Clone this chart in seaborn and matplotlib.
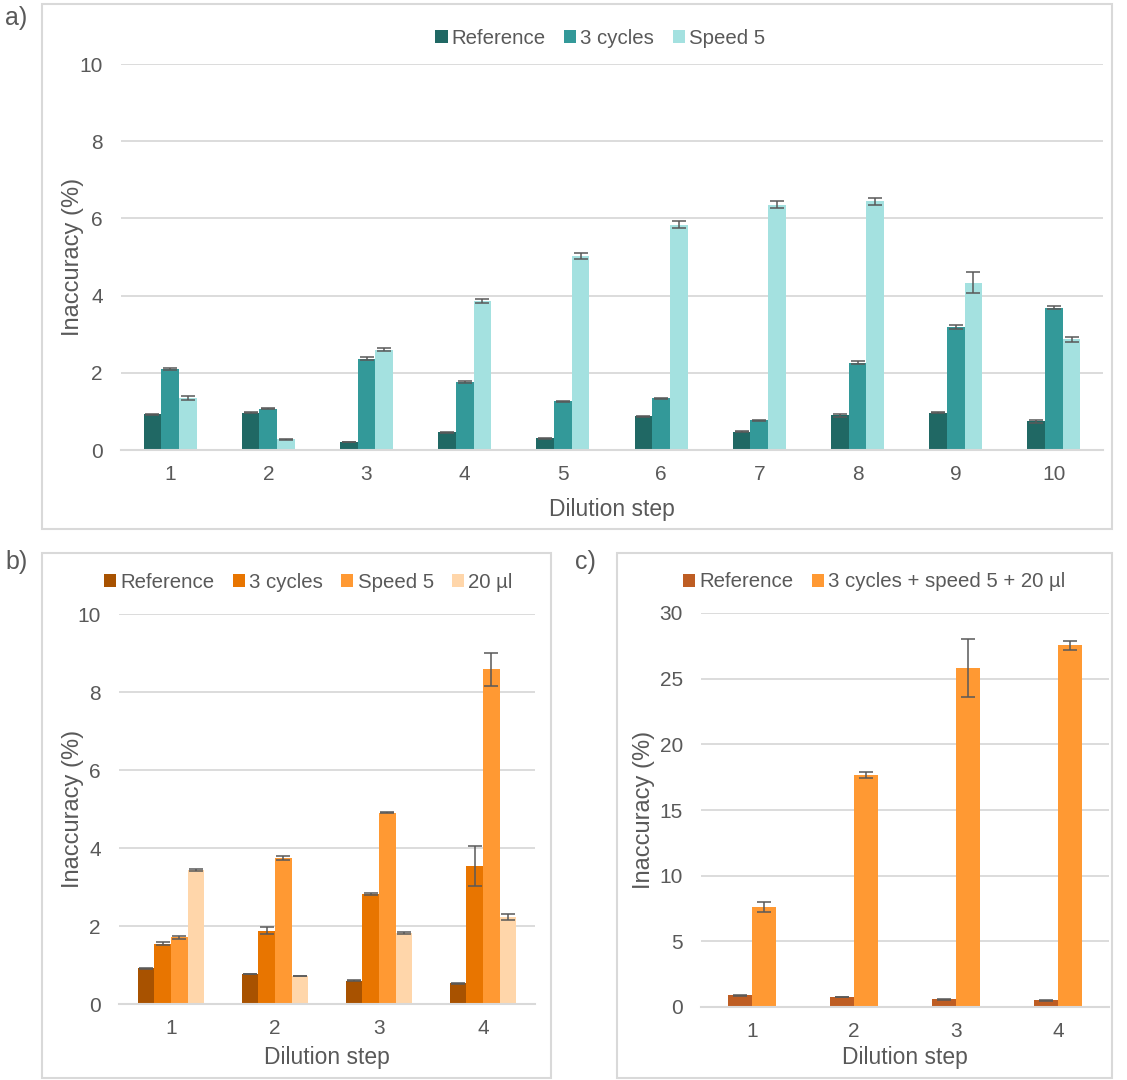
import pandas as pd
import seaborn as sns
import numpy as np
import matplotlib.pyplot as plt
from matplotlib.patches import Rectangle

# panel a: 10 dilution steps, teal series
steps_a = [str(i) for i in range(1, 11)]
series_a = ['Reference', '3 cycles', 'Speed 5']
ref_a = [0.92, 0.97, 0.21, 0.46, 0.30, 0.87, 0.47, 0.90, 0.97, 0.75]
cyc_a = [2.09, 1.07, 2.37, 1.76, 1.26, 1.34, 0.77, 2.26, 3.19, 3.69]
spd_a = [1.34, 0.28, 2.60, 3.86, 5.03, 5.84, 6.36, 6.44, 4.33, 2.87]
ref_a_err = [0.02, 0.02, 0.01, 0.01, 0.01, 0.02, 0.01, 0.04, 0.02, 0.04]
cyc_a_err = [0.03, 0.02, 0.05, 0.02, 0.02, 0.02, 0.02, 0.04, 0.06, 0.03]
spd_a_err = [0.05, 0.01, 0.03, 0.04, 0.08, 0.08, 0.10, 0.08, 0.27, 0.07]
colors_a = ['#206864', '#339999', '#A4E1E0']

# panel b: 4 dilution steps, orange series
steps_b = ['1', '2', '3', '4']
series_b = ['Reference', '3 cycles', 'Speed 5', '20 µl']
ref_b = [0.92, 0.77, 0.60, 0.53]
cyc_b = [1.55, 1.88, 2.82, 3.54]
spd_b = [1.71, 3.74, 4.91, 8.58]
vol_b = [3.44, 0.72, 1.82, 2.23]
ref_b_err = [0.01, 0.01, 0.01, 0.01]
cyc_b_err = [0.03, 0.085, 0.03, 0.52]
spd_b_err = [0.04, 0.06, 0.02, 0.43]
vol_b_err = [0.02, 0.01, 0.02, 0.07]
colors_b = ['#A85200', '#E87500', '#FF9933', '#FFD6AA']

# panel c: combined settings
steps_c = ['1', '2', '3', '4']
series_c = ['Reference', '3 cycles + speed 5 + 20 µl']
ref_c = [0.89, 0.76, 0.58, 0.51]
comb_c = [7.63, 17.67, 25.81, 27.56]
ref_c_err = [0.03, 0.03, 0.02, 0.02]
comb_c_err = [0.36, 0.23, 2.2, 0.34]
colors_c = ['#BE5D23', '#FF9933']

TXT = '#595959'
GRID = '#D9D9D9'

sns.set_style('white')
plt.rcParams['font.family'] = ['Liberation Sans', 'DejaVu Sans']
plt.rcParams['text.color'] = TXT
plt.rcParams['axes.labelcolor'] = TXT
plt.rcParams['xtick.color'] = TXT
plt.rcParams['ytick.color'] = TXT


def long_df(steps, names, values):
    rows = []
    for name, vals in zip(names, values):
        for s, v in zip(steps, vals):
            rows.append({'step': s, 'series': name, 'value': v})
    return pd.DataFrame(rows)


def draw_panel(ax, steps, names, values, errs, colors, width, ymax, ystep,
               leg_x, leg_y, ylab_x, xlab_y):
    df = long_df(steps, names, values)
    sns.barplot(data=df, x='step', y='value', hue='series', order=steps,
                hue_order=names, palette=colors, width=width, errorbar=None,
                saturation=1, linewidth=0, ax=ax)
    for cont, err in zip(ax.containers, errs):
        xs = [p.get_x() + p.get_width() / 2 for p in cont.patches]
        hs = [p.get_height() for p in cont.patches]
        ax.errorbar(xs, hs, yerr=err, fmt='none', ecolor=TXT,
                    elinewidth=1.1, capsize=5, capthick=1.1, zorder=4)
    ax.set_xlim(-0.5, len(steps) - 0.5)
    ax.set_ylim(0, ymax)
    ax.set_yticks(np.arange(0, ymax + 0.01, ystep))
    ax.yaxis.grid(True, color=GRID, linewidth=1.3)
    ax.set_axisbelow(True)
    for s in ['top', 'right', 'left']:
        ax.spines[s].set_visible(False)
    ax.spines['bottom'].set_color(GRID)
    ax.spines['bottom'].set_linewidth(1.5)
    ax.tick_params(axis='both', length=0, labelsize=15)
    ax.tick_params(axis='y', pad=13)
    ax.tick_params(axis='x', pad=11)
    ax.set_xlabel('Dilution step', fontsize=16.5)
    ax.set_ylabel('Inaccuracy (%)', fontsize=17)
    ax.yaxis.set_label_coords(ylab_x, 0.5)
    ax.xaxis.set_label_coords(0.5, xlab_y)
    handles, labels = ax.get_legend_handles_labels()
    ax.legend(handles, labels, loc='center', bbox_to_anchor=(leg_x, leg_y),
              ncol=len(names), frameon=False, fontsize=14.7,
              handlelength=0.6, handleheight=0.6, handletextpad=0.2,
              columnspacing=0.9, borderaxespad=0)


fig = plt.figure(figsize=(11.27, 10.8), dpi=100)
W, H = 1127, 1080


def box(x0, y0, x1, y1):
    return [x0 / W, 1 - y1 / H, (x1 - x0) / W, (y1 - y0) / H]


ax_a = fig.add_axes(box(121, 64, 1103, 450))
ax_b = fig.add_axes(box(119, 614, 535, 1004))
ax_c = fig.add_axes(box(701, 613, 1109, 1007))

draw_panel(ax_a, steps_a, series_a, [ref_a, cyc_a, spd_a],
           [ref_a_err, cyc_a_err, spd_a_err], colors_a, 0.54, 10, 2,
           0.488, 1.067, -0.038, -0.124)
draw_panel(ax_b, steps_b, series_b, [ref_b, cyc_b, spd_b, vol_b],
           [ref_b_err, cyc_b_err, spd_b_err, vol_b_err], colors_b, 0.64, 10, 2,
           0.455, 1.082, -0.084, -0.108)
draw_panel(ax_c, steps_c, series_c, [ref_c, comb_c],
           [ref_c_err, comb_c_err], colors_c, 0.48, 30, 5,
           0.425, 1.079, -0.113, -0.099)

# panel frames
for (x0, y0, x1, y1) in [(42, 4, 1112, 529), (42, 553, 551, 1078), (617, 553, 1112, 1078)]:
    fig.patches.append(Rectangle((x0 / W, 1 - y1 / H), (x1 - x0) / W, (y1 - y0) / H,
                                 transform=fig.transFigure, fill=False,
                                 edgecolor=GRID, linewidth=1.5))

fig.text(5 / W, 1 - 18 / H, 'a)', fontsize=18, va='center', ha='left')
fig.text(5 / W, 1 - 562 / H, 'b)', fontsize=18, va='center', ha='left')
fig.text(575 / W, 1 - 562 / H, 'c)', fontsize=18, va='center', ha='left')

fig.savefig('out.png', dpi=100, facecolor='white')
